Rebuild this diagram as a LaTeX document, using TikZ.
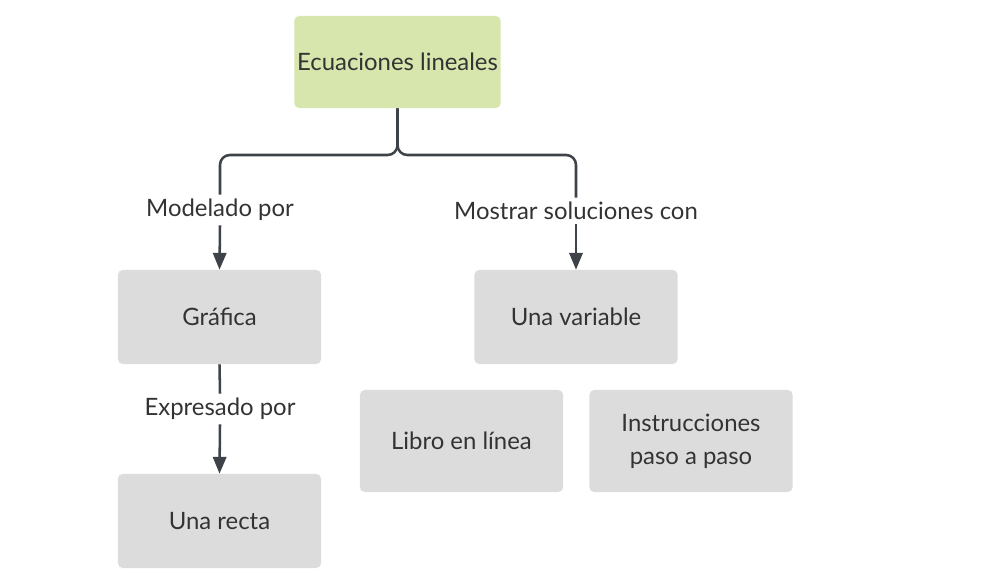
\documentclass[tikz,border=0pt]{standalone}
\usepackage{fontspec}
\setmainfont{Lato}
\usetikzlibrary{arrows.meta}

\definecolor{boxgreen}{RGB}{214,230,172}
\definecolor{boxgray}{RGB}{220,220,220}
\definecolor{linegray}{RGB}{62,67,74}
\definecolor{textgray}{RGB}{51,51,51}

\begin{document}
\begin{tikzpicture}[x=0.025cm,y=-0.025cm,
  box/.style={rectangle,rounded corners=3.5pt,fill=boxgray,minimum width=5.08cm,
    minimum height=2.35cm,inner xsep=2pt,align=center,text=textgray,
    font=\fontsize{17}{23.5}\selectfont},
  tag/.style={inner sep=3pt,text=textgray,font=\fontsize{17}{20}\selectfont},
  link/.style={draw=linegray,line width=1.8pt},
  arr/.style={link,-{Triangle[width=9.5pt,length=12pt]}}]
\useasboundingbox (0,0) rectangle (994,584);

% boxes
\node[box,fill=boxgreen,minimum height=2.3cm] (ecuaciones) at (397.5,62) {Ecuaciones lineales};
\node[box] (grafica) at (219.5,317) {Gráfica};
\node[box] (recta) at (219.5,521) {Una recta};
\node[box] (variable) at (576,317) {Una variable};
\node[box,minimum height=2.55cm] (libro) at (461.5,441) {Libro en línea};
\node[box,minimum height=2.55cm] (pasos) at (691,441) {Instrucciones\\paso a paso};

% labels
\node[tag] (modelado) at (220,210) {Modelado por};
\node[tag] (mostrar) at (576,211) {Mostrar soluciones con};
\node[tag] (expresado) at (220,409) {Expresado por};

% connectors
\draw[link,rounded corners=7pt] (ecuaciones.south) -- (397.5,155) -- (220,155) -- (modelado.north);
\draw[link,rounded corners=7pt] (ecuaciones.south) -- (397.5,155) -- (576,155) -- (mostrar.north);
\draw[arr] (modelado.south) -- (grafica.north);
\draw[arr] (mostrar.south) -- (variable.north);
\draw[link] (grafica.south) -- (expresado.north);
\draw[arr] (expresado.south) -- (recta.north);
\end{tikzpicture}
\end{document}
